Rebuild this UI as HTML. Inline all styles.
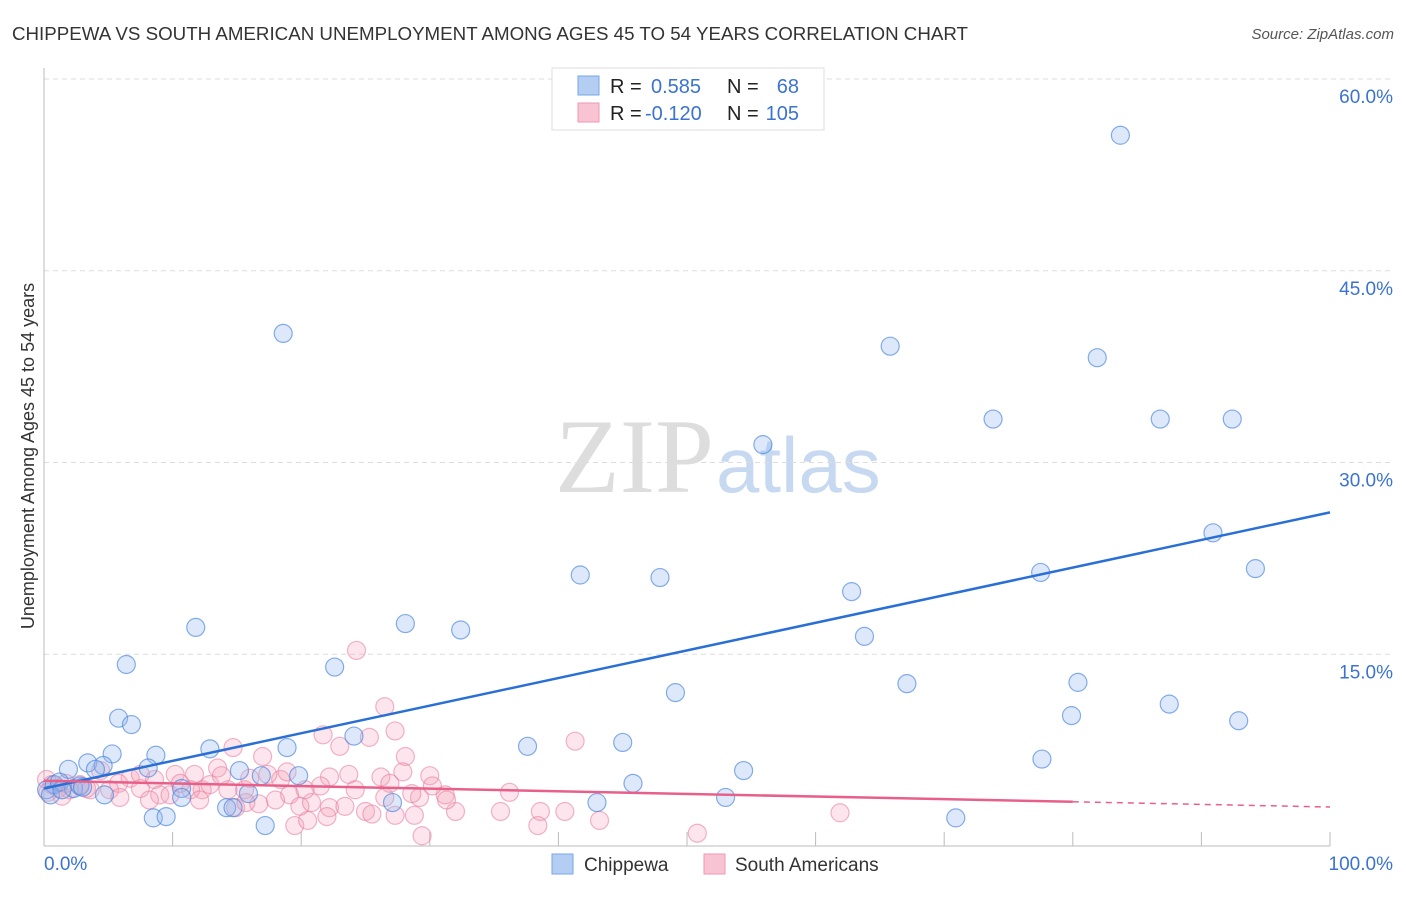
<!DOCTYPE html>
<html><head><meta charset="utf-8"><style>
body{margin:0;background:#fff;font-family:"Liberation Sans",sans-serif;}
svg text{font-family:"Liberation Sans",sans-serif;}
</style></head><body>
<svg id="chart" width="1406" height="892" xmlns="http://www.w3.org/2000/svg">
<text x="12" y="40" font-size="18" fill="#333" textLength="956" lengthAdjust="spacingAndGlyphs">CHIPPEWA VS SOUTH AMERICAN UNEMPLOYMENT AMONG AGES 45 TO 54 YEARS CORRELATION CHART</text>
<text x="1394" y="39" font-size="15" fill="#555" text-anchor="end" font-style="italic">Source: ZipAtlas.com</text>
<text x="714" y="492" font-size="106" fill="#ddd" text-anchor="end" style="font-family:'Liberation Serif',serif">ZIP</text>
<text x="716" y="492" font-size="78" fill="#c7d9f1">atlas</text>
<text transform="translate(34,456) rotate(-90)" font-size="18" fill="#333" text-anchor="middle">Unemployment Among Ages 45 to 54 years</text>
<g id="grid"></g><g id="pts"></g><g id="lines"></g>
<g>
<rect x="552" y="68" width="272" height="62" fill="#fff" stroke="#ddd"/>
<rect x="578" y="76" width="21" height="19" fill="#b3cdf3" stroke="#7aa6e6"/>
<rect x="578" y="103" width="21" height="19" fill="#f8c3d3" stroke="#ee9ab3"/>
<text x="610" y="93" font-size="20" fill="#222">R = </text><text x="651" y="93" font-size="20" fill="#3b73d0">0.585</text>
<text x="727" y="93" font-size="20" fill="#222">N = </text><text x="799" y="93" font-size="20" fill="#3b73d0" text-anchor="end">68</text>
<text x="610" y="120" font-size="20" fill="#222">R = </text><text x="645" y="120" font-size="20" fill="#3b73d0">-0.120</text>
<text x="727" y="120" font-size="20" fill="#222">N = </text><text x="799" y="120" font-size="20" fill="#3b73d0" text-anchor="end">105</text>
</g>
<g>
<rect x="552" y="854" width="21" height="20" fill="#b3cdf3" stroke="#7aa6e6"/>
<text x="584" y="871" font-size="19" fill="#333">Chippewa</text>
<rect x="704" y="854" width="21" height="20" fill="#f8c3d3" stroke="#ee9ab3"/>
<text x="735" y="871" font-size="19" fill="#333">South Americans</text>
</g>
</svg>
<script>
const yTicks=[15,30,45,60];
const yTickLabels=["15.0%","30.0%","45.0%","60.0%"];
const xTicks=[10,20,30,40,50,60,70,80,90,100];
const blueX=[83.7,18.6,65.8,81.9,73.8,86.8,92.4,55.9,90.9,94.2,41.7,47.9,77.5,62.8,11.8,28.1,32.4,63.8,6.4,22.6,67.1,80.4,49.1,79.9,87.5,92.9,5.8,6.8,37.6,45.0,24.1,77.6,18.9,12.9,5.3,8.7,3.4,4.6,1.9,8.1,4.0,54.4,15.2,16.9,19.8,45.8,10.7,10.7,15.9,14.2,14.7,27.1,43.0,53.0,8.5,9.5,17.2,70.9,4.7,0.2,0.8,1.2,2.3,2.8,0.5,1.4,3.0];
const blueY=[55.6,40.1,39.1,38.2,33.4,33.4,33.4,31.4,24.5,21.7,21.2,21.0,21.4,19.9,17.1,17.4,16.9,16.4,14.2,14.0,12.7,12.8,12.0,10.2,11.1,9.8,10.0,9.5,7.8,8.1,8.6,6.8,7.7,7.6,7.2,7.1,6.5,6.3,6.0,6.1,6.0,5.9,5.9,5.5,5.5,4.9,4.5,3.8,4.1,3.0,3.0,3.4,3.4,3.8,2.2,2.3,1.6,2.2,4.0,4.4,4.8,5.0,4.5,4.7,4.0,4.4,4.6];
const pinkX=[24.3,26.5,27.3,21.7,23.0,25.3,28.1,17.0,22.2,23.7,26.2,27.9,30.0,41.3,14.7,13.5,11.7,10.2,8.6,6.7,4.4,5.8,7.5,9.0,12.3,15.6,18.4,19.1,18.0,19.9,20.8,22.2,23.4,25.0,25.5,27.3,28.8,29.2,31.2,32.0,36.2,35.5,38.6,40.5,43.2,38.4,50.8,29.4,19.5,20.5,22.0,16.7,14.9,2.8,2.0,1.1,3.6,5.1,9.8,11.4,12.9,14.3,16.0,17.4,18.9,12.1,15.7,61.9,30.2,31.3,28.6,26.5,24.2,21.5,26.9,8.2,5.9,1.4,0.6,3.3,0.2,0.3,1.7,7.5,10.6,13.8,20.3];
const pinkY=[15.3,10.9,9.0,8.7,7.8,8.5,7.0,7.0,5.4,5.6,5.4,5.8,5.5,8.2,7.7,6.1,5.6,5.6,5.2,5.3,5.9,4.9,4.5,4.0,4.4,4.4,5.2,4.0,3.6,3.1,3.4,3.0,3.1,2.7,2.5,2.4,2.4,3.8,4.0,2.7,4.2,2.7,2.7,2.7,2.0,1.6,1.0,0.8,1.6,2.0,2.3,3.3,3.0,4.8,4.4,4.5,4.4,4.4,4.0,4.4,4.8,4.4,5.3,5.6,5.8,3.6,3.4,2.6,4.7,3.6,4.1,3.8,4.4,4.7,4.9,3.6,3.8,3.9,4.8,4.5,5.2,4.2,4.9,5.6,4.9,5.5,4.4];
const blueLine=[4.5,26.1];
const pinkLine=[5.1,3.05];
const pinkSolidEnd=80;
const X=v=>44+v*12.86, Y=v=>846-v*12.783;
const NS="http://www.w3.org/2000/svg";
function mk(tag,attrs,parent){const e=document.createElementNS(NS,tag);for(const k in attrs)e.setAttribute(k,attrs[k]);parent.appendChild(e);return e;}
const grid=document.getElementById('grid');
yTicks.forEach((t,i)=>{
  const l=mk('line',{x1:44,x2:1394,y1:Y(t),y2:Y(t),stroke:'#ddd','stroke-dasharray':'5,4'},grid);
  
  
  const tx=mk('text',{x:1393,y:Y(t)+24,'font-size':19,fill:'#3b73d0','text-anchor':'end'},grid);
  tx.textContent=yTickLabels[i];
  
  
});
const ax=mk('line',{x1:44,x2:44,y1:68,y2:846,stroke:'#bbb'},grid);


const bx=mk('line',{x1:44,x2:1330,y1:846,y2:846,stroke:'#bbb'},grid);


xTicks.forEach(t=>{const l=mk('line',{x1:X(t),x2:X(t),y1:832,y2:846,stroke:'#bbb'},grid);
  
  });
const x0=mk('text',{x:44,y:870,'font-size':19,fill:'#3b73d0'},grid);x0.textContent='0.0%';


const x1=mk('text',{x:1393,y:870,'font-size':19,fill:'#3b73d0','text-anchor':'end'},grid);x1.textContent='100.0%';


const pts=document.getElementById('pts');
pinkX.forEach((v,i)=>{const c=mk('circle',{cx:X(v),cy:Y(pinkY[i]),r:9,fill:'rgba(244,160,188,0.28)',stroke:'rgba(232,120,156,0.55)','stroke-width':1.2},pts);
  
  });
blueX.forEach((v,i)=>{const c=mk('circle',{cx:X(v),cy:Y(blueY[i]),r:9,fill:'rgba(150,188,240,0.32)',stroke:'rgba(70,130,220,0.65)','stroke-width':1.2},pts);
  
  });
const lines=document.getElementById('lines');
const bl=mk('line',{x1:X(0),y1:Y(blueLine[0]),x2:X(100),y2:Y(blueLine[1]),stroke:'#2a6fd6','stroke-width':2.5},lines);


const pv=x=>pinkLine[0]+(pinkLine[1]-pinkLine[0])*x/100;
const pl=mk('line',{x1:X(0),y1:Y(pv(0)),x2:X(pinkSolidEnd),y2:Y(pv(pinkSolidEnd)),stroke:'#e8608a','stroke-width':2.5},lines);


const pd=mk('line',{x1:X(pinkSolidEnd),y1:Y(pv(pinkSolidEnd)),x2:X(100),y2:Y(pv(100)),stroke:'#e8608a','stroke-width':1.5,'stroke-dasharray':'6,5'},lines);


</script>
</body></html>
